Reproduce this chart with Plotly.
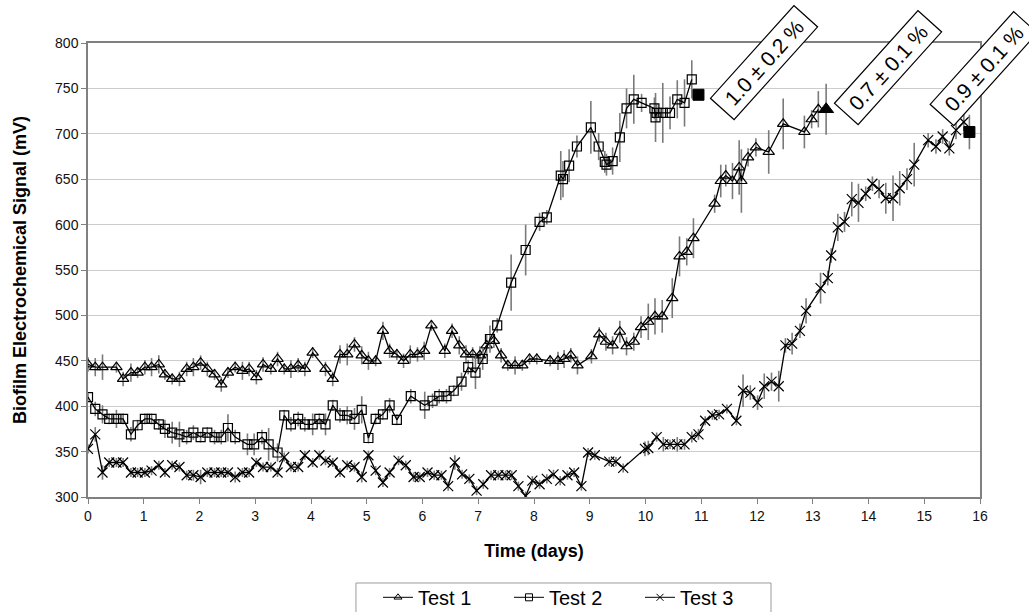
import plotly.graph_objects as go

# ---------------- data ----------------
t1_days = [0, 0.13, 0.26, 0.51, 0.63, 0.77, 0.89, 1.02, 1.14, 1.27,
           1.38, 1.51, 1.64, 1.77, 1.89, 2.02, 2.14, 2.27, 2.39, 2.51,
           2.64, 2.77, 2.89, 3.02, 3.14, 3.28, 3.40, 3.52, 3.64, 3.77,
           3.89, 4.03, 4.26, 4.39, 4.52, 4.65, 4.78, 4.91, 5.03, 5.16,
           5.29, 5.41, 5.54, 5.66, 5.78, 5.91, 6.03, 6.16, 6.40, 6.53,
           6.66, 6.78, 6.90, 7.03, 7.15, 7.28, 7.41, 7.53, 7.66, 7.79,
           7.92, 8.05, 8.29, 8.43, 8.54, 8.66, 8.78, 9.03, 9.17, 9.29,
           9.41, 9.54, 9.66, 9.79, 9.92, 10.05, 10.17, 10.30, 10.48, 10.61,
           10.74, 10.86, 11.24, 11.35, 11.44, 11.56, 11.68, 11.72, 11.84, 11.98,
           12.21, 12.47, 12.85, 12.98, 13.10]
t1_mv = [446, 443, 443, 443, 430, 437, 437, 443, 443, 446,
         435, 430, 430, 441, 443, 448, 441, 435, 424, 437,
         443, 439, 441, 432, 446, 441, 452, 441, 441, 445,
         441, 459, 441, 430, 457, 457, 468, 456, 450, 450,
         483, 461, 457, 450, 457, 457, 461, 489, 461, 483,
         467, 457, 457, 456, 467, 472, 456, 445, 445, 445,
         452, 452, 450, 450, 452, 456, 445, 455, 479, 471,
         467, 482, 466, 471, 487, 493, 499, 499, 519, 565,
         570, 585, 623, 648, 654, 648, 663, 648, 674, 685,
         680, 711, 702, 716, 727]
t1_err = [8, 10, 14, 6, 8, 10, 6, 8, 10, 10,
          6, 6, 8, 8, 10, 8, 8, 6, 8, 6,
          6, 10, 8, 8, 8, 6, 8, 6, 10, 8,
          8, 6, 8, 8, 10, 12, 8, 10, 10, 6,
          10, 8, 6, 8, 10, 8, 10, 6, 8, 8,
          10, 10, 8, 10, 12, 8, 8, 6, 10, 6,
          6, 6, 6, 10, 10, 8, 10, 8, 8, 10,
          10, 12, 10, 10, 12, 20, 20, 18, 22, 22,
          15, 22, 10, 18, 12, 20, 30, 35, 10, 10,
          24, 28, 18, 10, 20]

t2_days = [0, 0.13, 0.26, 0.38, 0.51, 0.63, 0.77, 0.89, 1.02, 1.14,
           1.27, 1.38, 1.51, 1.64, 1.77, 1.89, 2.02, 2.14, 2.27, 2.39,
           2.51, 2.64, 2.86, 2.98, 3.12, 3.24, 3.40, 3.52, 3.64, 3.77,
           3.89, 4.03, 4.15, 4.26, 4.39, 4.52, 4.65, 4.78, 4.91, 5.03,
           5.16, 5.29, 5.41, 5.54, 5.79, 6.04, 6.18, 6.30, 6.43, 6.56,
           6.70, 6.82, 6.95, 7.08, 7.21, 7.34, 7.59, 7.85, 8.10, 8.23,
           8.48, 8.52, 8.63, 8.77, 9.02, 9.16, 9.27, 9.30, 9.41, 9.54,
           9.66, 9.79, 9.93, 10.16, 10.18, 10.20, 10.31, 10.44, 10.57, 10.70,
           10.83]
t2_mv = [410, 397, 391, 386, 386, 386, 369, 379, 386, 386,
         380, 375, 371, 369, 366, 371, 366, 371, 366, 366,
         376, 366, 358, 358, 366, 358, 349, 390, 380, 386,
         380, 380, 386, 380, 401, 390, 390, 386, 396, 365,
         386, 391, 401, 385, 411, 401, 406, 411, 411, 417,
         427, 443, 437, 452, 474, 489, 536, 572, 603, 608,
         654, 650, 665, 686, 707, 686, 669, 666, 670, 696,
         728, 738, 734, 728, 718, 723, 723, 723, 738, 734,
         760]
t2_err = [4, 8, 10, 6, 10, 6, 8, 6, 6, 6,
          6, 10, 12, 14, 8, 8, 6, 6, 8, 8,
          15, 8, 12, 12, 8, 18, 10, 6, 8, 8,
          8, 12, 6, 12, 6, 8, 10, 12, 15, 6,
          6, 6, 8, 6, 8, 15, 8, 8, 8, 6,
          10, 8, 18, 12, 15, 8, 31, 28, 10, 8,
          27, 20, 18, 12, 29, 15, 12, 12, 15, 27,
          22, 27, 10, 12, 27, 10, 33, 18, 21, 26,
          21]

t3_days = [0, 0.13, 0.26, 0.38, 0.51, 0.63, 0.77, 0.89, 1.02, 1.14,
           1.27, 1.38, 1.51, 1.64, 1.77, 1.89, 2.02, 2.14, 2.27, 2.39,
           2.51, 2.64, 2.77, 2.89, 3.02, 3.14, 3.28, 3.40, 3.52, 3.64,
           3.77, 3.89, 4.03, 4.15, 4.26, 4.39, 4.52, 4.65, 4.78, 4.91,
           5.03, 5.16, 5.29, 5.41, 5.57, 5.70, 5.84, 5.95, 6.09, 6.21,
           6.34, 6.46, 6.58, 6.71, 6.84, 6.97, 7.09, 7.23, 7.36, 7.49,
           7.60, 7.72, 7.85, 7.97, 8.10, 8.23, 8.35, 8.47, 8.60, 8.72,
           8.85, 8.97, 9.09, 9.35, 9.47, 9.60, 9.99, 10.05, 10.20, 10.32,
           10.44, 10.57, 10.70, 10.83, 10.95, 11.07, 11.20, 11.32, 11.46, 11.63,
           11.75, 11.88, 12.01, 12.13, 12.26, 12.39, 12.51, 12.63, 12.77, 12.88,
           13.14, 13.27, 13.33, 13.45, 13.57, 13.70, 13.82, 13.95, 14.07, 14.19,
           14.31, 14.44, 14.56, 14.69, 14.82, 15.07, 15.21, 15.33, 15.45, 15.57,
           15.71]
t3_mv = [353, 369, 327, 338, 338, 338, 327, 327, 327, 329,
         335, 327, 335, 333, 324, 324, 322, 327, 327, 327,
         327, 322, 327, 327, 338, 333, 333, 327, 344, 333,
         333, 346, 338, 346, 340, 338, 327, 335, 333, 322,
         346, 329, 316, 327, 340, 335, 322, 322, 327, 324,
         324, 312, 338, 325, 320, 307, 314, 324, 324, 324,
         324, 312, 301, 318, 314, 320, 325, 318, 324, 327,
         312, 349, 346, 339, 339, 332, 353, 354, 366, 358,
         358, 358, 358, 366, 369, 384, 390, 391, 397, 384,
         417, 415, 404, 422, 427, 422, 467, 469, 483, 505,
         530, 541, 566, 597, 603, 628, 624, 634, 645, 639,
         629, 629, 640, 650, 666, 693, 686, 697, 684, 704,
         713]
t3_err = [5, 8, 8, 5, 5, 5, 5, 5, 5, 5,
          5, 5, 5, 5, 5, 6, 8, 5, 5, 5,
          5, 6, 5, 5, 5, 5, 5, 5, 5, 5,
          5, 5, 5, 5, 5, 5, 5, 5, 5, 6,
          5, 5, 5, 5, 5, 5, 5, 5, 5, 5,
          5, 5, 8, 5, 5, 5, 5, 5, 5, 5,
          5, 5, 5, 5, 5, 5, 5, 5, 5, 5,
          5, 5, 5, 5, 5, 5, 8, 8, 5, 8,
          5, 8, 6, 6, 6, 5, 5, 5, 5, 5,
          18, 8, 8, 14, 10, 17, 8, 12, 8, 14,
          17, 8, 8, 15, 11, 19, 21, 8, 8, 10,
          17, 25, 19, 12, 24, 8, 8, 8, 8, 10,
          10]

# end-point (detection) markers
end_days = [13.24, 10.95, 15.81]
end_mv = [727, 743, 702]
end_err = [28, 0, 19]
end_symbols = ["triangle-up", "square", "square"]

# rotated result boxes (paper positions of their centres)
labels = ["1.0 ± 0.2 %", "0.7 ± 0.1 %", "0.9 ± 0.1 %"]
label_x = [0.758, 0.897, 1.0045]
label_y = [0.957, 0.946, 0.943]

series_names = ["Test 1", "Test 2", "Test 3"]
series_symbols = ["triangle-up-open", "square-open", "x-thin-open"]

# ---------------- figure ----------------
FONT = "Arial, 'Liberation Sans', sans-serif"
ERRC = "#7a7a7a"

fig = go.Figure()

def add_series(name, x, y, err, symbol, size):
    fig.add_trace(go.Scatter(
        x=x, y=y, name=name, mode="lines+markers", showlegend=False,
        line=dict(color="black", width=1.3),
        marker=dict(symbol=symbol, size=size, color="black",
                    line=dict(color="black", width=1.2)),
        error_y=dict(type="data", array=err, visible=True,
                     color=ERRC, thickness=1.6, width=0),
    ))

add_series(series_names[0], t1_days, t1_mv, t1_err, series_symbols[0], 10)
add_series(series_names[1], t2_days, t2_mv, t2_err, series_symbols[1], 9)
add_series(series_names[2], t3_days, t3_mv, t3_err, series_symbols[2], 10)

fig.add_trace(go.Scatter(
    x=end_days, y=end_mv, mode="markers", showlegend=False, opacity=1,
    marker=dict(symbol=end_symbols, size=[13, 11, 11], color="#000000",
                opacity=1, line=dict(color="#000000", width=1)),
    error_y=dict(type="data", array=end_err, visible=True,
                 color=ERRC, thickness=1.6, width=0),
))

# legend entries (small open markers, thin line as in the reference key)
for name, sym in zip(series_names, series_symbols):
    fig.add_trace(go.Scatter(
        x=[None], y=[None], name=name, mode="lines+markers",
        line=dict(color="black", width=1),
        marker=dict(symbol=sym, size=7, color="black",
                    line=dict(color="black", width=1)),
    ))

for txt, xp, yp in zip(labels, label_x, label_y):
    fig.add_annotation(
        x=xp, y=yp, xref="paper", yref="paper", text=txt, showarrow=False,
        textangle=-48, font=dict(family=FONT, size=21, color="black"),
        bordercolor="black", borderwidth=1.2, borderpad=3,
        bgcolor="white", width=118, height=25,
        xanchor="center", yanchor="middle",
    )

# legend frame (wider padding than plotly's own legend border)
fig.add_shape(type="rect", xref="paper", yref="paper",
              x0=0.3004, x1=0.7657, y0=-0.1894, y1=-0.27,
              line=dict(color="#9a9a9a", width=1), fillcolor="rgba(0,0,0,0)",
              layer="above")

fig.update_layout(
    width=1029, height=612,
    margin=dict(l=88, r=49, t=43, b=115, autoexpand=False),
    paper_bgcolor="white", plot_bgcolor="white",
    font=dict(family=FONT, color="black"),
    showlegend=True,
    legend=dict(
        orientation="h", x=0.3251, y=-0.178, xanchor="left", yanchor="top",
        font=dict(family=FONT, size=20, color="black"),
        borderwidth=0, bgcolor="rgba(0,0,0,0)",
        entrywidth=86, entrywidthmode="pixels",
    ),
)

fig.update_xaxes(
    range=[0, 16], dtick=1, tick0=0,
    showgrid=False, zeroline=False,
    showline=True, linecolor="#808080", linewidth=1.5, mirror=True,
    ticks="outside", ticklen=5, tickcolor="#808080",
    tickfont=dict(family=FONT, size=14, color="#111"),
    title=dict(text="<b>Time (days)</b>", font=dict(family=FONT, size=18, color="black"),
               standoff=22),
)
fig.update_yaxes(
    range=[300, 800], dtick=50, tick0=300,
    showgrid=True, gridcolor="#cccccc", gridwidth=1,
    zeroline=False,
    showline=True, linecolor="#808080", linewidth=1.5, mirror=True,
    ticks="outside", ticklen=5, tickcolor="#808080",
    tickfont=dict(family=FONT, size=14, color="#111"),
    title=dict(text="<b>Biofilm Electrochemical Signal (mV)</b>",
               font=dict(family=FONT, size=18, color="black"), standoff=24),
)

fig.write_html("out.html")
